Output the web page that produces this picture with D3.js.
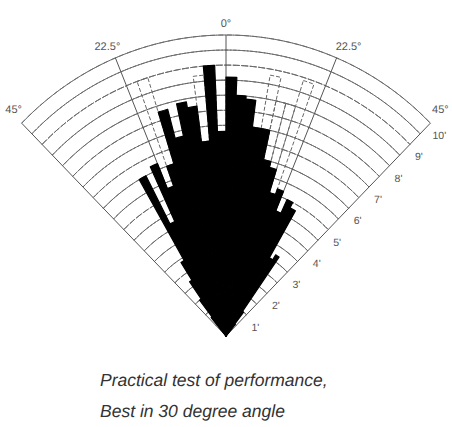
<!DOCTYPE html>
<html><head><meta charset="utf-8">
<script src="https://cdn.jsdelivr.net/npm/d3@7"></script>
<style>body{margin:0;background:#fff}svg{display:block}</style>
</head><body>
<script>
// bin start angles (degrees from vertical, +right), width 2.5°
const binStarts = [-45,-42.5,-40,-37.5,-35,-32.5,-30,-27.5,-25,-22.5,-20,-17.5,-15,-12.5,-10,-7.5,-5,-2.5,
                   0,2.5,5,7.5,10,12.5,15,17.5,20,22.5,25,27.5,30,32.5,35,37.5,40,42.5];
const solidLen = [0,0,0.8,1.5,2.2,2.9,6.0,4.2,6.2,5.3,6.0,7.8,6.8,7.9,7.7,6.5,9.0,6.8,
                  8.6,8.0,7.9,7.0,7.0,6.0,5.8,5.0,5.2,4.5,5.0,4.8,3.0,3.2,1.0,0.5,0,0];
const hollowLen = [0,0,0,0,0,0,0,0,0,0,9.0,0,0,0,0,8.7,0,8.5,
                   0,0,0,0,8.8,8.0,8.0,8.9,0,0,0,0,0,0,0,0,0,0];
const ringValues = [0.5,1,1.5,2,2.5,3,3.5,4,4.5,5,5.5,6,6.5,7,7.5,8,8.5,9,9.5,10];
const labelValues = [1,2,3,4,5,6,7,8,9,10];
const ringLabels = ["1'","2'","3'","4'","5'","6'","7'","8'","9'","10'"];
const spokeAngles = [-45,-22.5,0,22.5,45];
const spokeLabels = ["45°","22.5°","0°","22.5°","45°"];
const captionLines = ["Practical test of performance,","Best in 30 degree angle"];
const binWidth = 2.5;

const W = 452, H = 427, cx = 226, cy = 336, sx = 2.89, sy = 3.01;
const svg = d3.select("body").append("svg").attr("width", W).attr("height", H)
  .attr("text-rendering", "geometricPrecision");
const ang = d3.scaleLinear().domain([-180, 180]).range([-Math.PI, Math.PI]);
const rad = d3.scaleLinear().domain([0, 10]).range([0, 100]);

const g = svg.append("g").attr("transform", `translate(${cx},${cy}) scale(${sx},${sy})`);
const arc = d3.arc();

// rings
g.selectAll("path.ring").data(ringValues).join("path")
  .attr("d", d => arc({innerRadius: rad(d), outerRadius: rad(d), startAngle: ang(-45), endAngle: ang(45)}))
  .attr("fill", "none").attr("stroke", "#6a6a6a").attr("stroke-width", 1)
  .attr("stroke-dasharray", "7,1.5")
  .attr("vector-effect", "non-scaling-stroke");

// spokes
g.selectAll("line.spoke").data(spokeAngles).join("line")
  .attr("x1", 0).attr("y1", 0)
  .attr("x2", d => rad(10) * Math.sin(ang(d)))
  .attr("y2", d => -rad(10) * Math.cos(ang(d)))
  .attr("stroke", "#555").attr("stroke-width", 1)
  .attr("vector-effect", "non-scaling-stroke");

// hollow (outlined) bars
g.selectAll("path.hollow").data(binStarts.map((a, i) => ({a, v: hollowLen[i]})).filter(d => d.v > 0)).join("path")
  .attr("d", d => arc({innerRadius: 0, outerRadius: rad(d.v), startAngle: ang(d.a), endAngle: ang(d.a + binWidth)}))
  .attr("fill", "none").attr("stroke", "#666").attr("stroke-width", 1)
  .attr("stroke-dasharray", "4,2")
  .attr("vector-effect", "non-scaling-stroke");

// solid bars
g.selectAll("path.solid").data(binStarts.map((a, i) => ({a, v: solidLen[i]})).filter(d => d.v > 0)).join("path")
  .attr("d", d => arc({innerRadius: 0, outerRadius: rad(d.v), startAngle: ang(d.a), endAngle: ang(d.a + binWidth)}))
  .attr("fill", "#000").attr("stroke", "#000").attr("stroke-width", 1.2)
  .attr("stroke-linejoin", "round")
  .attr("vector-effect", "non-scaling-stroke");

// spoke labels
const pt = (a, r) => [cx + sx * rad(r) * Math.sin(ang(a)), cy - sy * rad(r) * Math.cos(ang(a))];
const labelDx = {"-45": -8, "-22.5": -8, "0": 0, "22.5": 12, "45": 10};
svg.selectAll("text.sl").data(spokeAngles).join("text")
  .attr("x", d => pt(d, 10)[0] + labelDx[String(d)])
  .attr("y", d => pt(d, 10)[1] - (Math.abs(d) === 45 ? 10 : 8))
  .attr("text-anchor", "middle")
  .attr("font-family", "Liberation Sans, Arial, sans-serif").attr("font-size", 11)
  .attr("fill", "#555")
  .text((d, i) => spokeLabels[i]);

// ring labels on right edge
svg.selectAll("text.rl").data(labelValues).join("text")
  .attr("x", d => pt(45, d)[0] + 9)
  .attr("y", d => pt(45, d)[1] + 16)
  .attr("text-anchor", "middle")
  .attr("font-family", "Liberation Sans, Arial, sans-serif").attr("font-size", 10.5)
  .attr("fill", "#555")
  .text((d, i) => ringLabels[i]);

// caption
svg.selectAll("text.cap").data(captionLines).join("text")
  .attr("x", 100).attr("y", (d, i) => 386 + i * 31)
  .attr("font-family", "Liberation Sans, Arial, sans-serif").attr("font-size", 17.5)
  .attr("font-style", "italic").attr("fill", "#333")
  .text(d => d);
</script>
</body></html>
